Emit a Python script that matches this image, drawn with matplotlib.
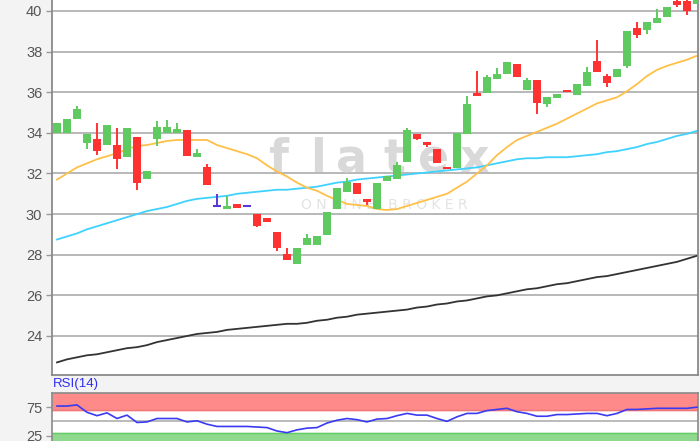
import numpy as np
import matplotlib
matplotlib.use("Agg")
import matplotlib.pyplot as plt

# Kursdaten (Tageskerzen)
opens = [34.0, 34.0, 34.7, 33.5, 33.7, 33.4, 33.4, 32.8, 33.8, 31.75,
         33.7, 34.0, 34.0, 34.15, 32.8, 32.3, 30.4, 30.25, 30.5, 30.4,
         30.0, 29.8, 29.1, 28.05, 27.55, 28.5, 28.5, 28.95, 30.25, 31.1,
         31.55, 30.75, 30.25, 31.65, 31.75, 32.55, 33.95, 33.55, 33.2, 32.3,
         32.25, 33.95, 35.95, 35.95, 36.65, 36.9, 37.4, 36.1, 36.6, 35.4,
         35.7, 36.1, 35.85, 36.3, 37.55, 36.8, 36.75, 37.3, 39.15, 39.05,
         39.4, 39.7, 40.5, 40.5, 40.35]
highs = [34.5, 34.7, 35.3, 33.95, 34.5, 34.4, 34.25, 34.25, 33.8, 32.1,
         34.6, 34.65, 34.5, 34.15, 33.2, 32.45, 31.0, 30.9, 30.5, 30.4,
         30.0, 29.8, 29.1, 28.35, 28.35, 29.0, 28.9, 30.1, 31.3, 31.8,
         31.55, 30.75, 31.55, 31.9, 32.55, 34.25, 33.95, 33.55, 33.2, 32.3,
         34.0, 35.8, 37.05, 36.85, 37.2, 37.5, 37.4, 36.7, 36.6, 35.75,
         35.9, 36.1, 36.4, 37.25, 38.55, 36.9, 37.15, 39.0, 39.45, 39.45,
         40.1, 40.2, 40.6, 40.6, 40.8]
lows = [34.0, 34.0, 34.7, 33.2, 32.9, 33.4, 32.2, 32.8, 31.2, 31.75,
        33.35, 34.0, 34.0, 32.85, 32.8, 31.45, 30.4, 30.25, 30.3, 30.4,
        29.35, 29.6, 28.2, 27.75, 27.55, 28.5, 28.5, 28.95, 30.25, 31.1,
        31.0, 30.45, 30.25, 31.65, 31.75, 32.55, 33.65, 33.3, 32.5, 32.2,
        32.25, 33.95, 35.8, 35.95, 36.65, 36.9, 36.75, 36.1, 34.95, 35.25,
        35.7, 36.0, 35.85, 36.3, 37.0, 36.25, 36.75, 37.2, 38.65, 38.85,
        39.4, 39.7, 40.2, 39.8, 40.35]
closes = [34.5, 34.7, 35.15, 33.95, 33.1, 34.4, 32.7, 34.25, 31.55, 32.1,
          34.3, 34.3, 34.2, 32.85, 33.0, 31.45, 30.4, 30.4, 30.3, 30.4,
          29.4, 29.6, 28.35, 27.75, 28.35, 28.8, 28.9, 30.1, 31.3, 31.6,
          31.0, 30.6, 31.55, 31.9, 32.4, 34.15, 33.7, 33.4, 32.5, 32.2,
          34.0, 35.4, 35.8, 36.75, 36.9, 37.5, 36.75, 36.6, 35.45, 35.75,
          35.9, 36.0, 36.4, 37.0, 37.0, 36.45, 37.15, 39.0, 38.8, 39.45,
          39.65, 40.2, 40.3, 40.0, 40.7]

# gleitende Durchschnitte
sma_20 = [31.7, 32.0, 32.3, 32.5, 32.7, 32.85, 33.0, 33.2, 33.35, 33.4,
          33.5, 33.6, 33.65, 33.65, 33.65, 33.65, 33.4, 33.25, 33.1, 32.95,
          32.75, 32.4, 32.1, 31.85, 31.55, 31.3, 31.15, 30.9, 30.7, 30.5,
          30.45, 30.4, 30.25, 30.2, 30.25, 30.4, 30.55, 30.7, 30.85, 31.0,
          31.3, 31.6, 32.0, 32.4, 32.9, 33.3, 33.65, 33.85, 34.05, 34.25,
          34.45, 34.7, 34.95, 35.2, 35.45, 35.6, 35.75, 36.05, 36.4, 36.8,
          37.1, 37.3, 37.45, 37.6, 37.8]
sma_50 = [28.75, 28.9, 29.05, 29.25, 29.4, 29.55, 29.7, 29.85, 30.0, 30.15,
          30.25, 30.35, 30.5, 30.65, 30.75, 30.8, 30.85, 30.9, 31.0, 31.05,
          31.1, 31.15, 31.2, 31.2, 31.25, 31.3, 31.35, 31.45, 31.55, 31.6,
          31.7, 31.75, 31.8, 31.85, 31.9, 31.95, 32.0, 32.05, 32.1, 32.15,
          32.2, 32.25, 32.3, 32.4, 32.5, 32.6, 32.7, 32.75, 32.75, 32.8,
          32.8, 32.8, 32.85, 32.9, 32.95, 33.05, 33.1, 33.2, 33.3, 33.45,
          33.55, 33.7, 33.85, 33.95, 34.1]
sma_200 = [22.7, 22.85, 22.95, 23.05, 23.1, 23.2, 23.3, 23.4, 23.45, 23.55,
           23.7, 23.8, 23.9, 24.0, 24.1, 24.15, 24.2, 24.3, 24.35, 24.4,
           24.45, 24.5, 24.55, 24.6, 24.6, 24.65, 24.75, 24.8, 24.9, 24.95,
           25.05, 25.1, 25.15, 25.2, 25.25, 25.3, 25.4, 25.45, 25.55, 25.6,
           25.7, 25.75, 25.85, 25.95, 26.0, 26.1, 26.2, 26.3, 26.35, 26.45,
           26.55, 26.6, 26.7, 26.8, 26.9, 26.95, 27.05, 27.15, 27.25, 27.35,
           27.45, 27.55, 27.65, 27.8, 27.95]

rsi_14 = [77, 77, 79, 66, 60, 65, 55, 61, 48, 49,
          55, 55, 55, 49, 51, 45, 41, 41, 41, 41,
          40, 39, 33, 30, 35, 38, 39, 47, 52, 55,
          53, 49, 54, 55, 60, 64, 61, 61, 55, 50,
          58, 64, 64, 69, 71, 73, 67, 64, 59, 59,
          62, 62, 63, 64, 64, 60, 64, 71, 71, 72,
          73, 73, 73, 73, 75]

price_ticks = [24, 26, 28, 30, 32, 34, 36, 38, 40]
rsi_ticks = [25, 75]

x = np.arange(len(opens))
o = np.array(opens); c = np.array(closes)
h = np.array(highs); l = np.array(lows)

col_up = '#5fca5f'
col_down = '#ff3232'
col_doji = '#5b36d6'
colors = np.where(c > o, col_up, np.where(c < o, col_down, col_doji))

fig = plt.figure(figsize=(7, 4.41), dpi=100, facecolor='#f3f3f3')
plt.rcParams['font.family'] = ['Liberation Sans', 'DejaVu Sans']

ax = fig.add_axes([52/700, 1 - 375/441, 646/700, 375/441])
ax.set_facecolor('white')
ax.set_xlim(-0.5, 64.1)
ax.set_ylim(22.08, 40.54)
ax.set_yticks(price_ticks)
ax.yaxis.grid(True, color='#ababab', linewidth=1.2, zorder=0)
ax.set_axisbelow(True)
ax.set_xticks([])
ax.tick_params(axis='y', colors='#999999', labelcolor='#555555', labelsize=10.5,
               length=4, width=1, pad=3)
for s in ['left', 'bottom', 'right']:
    ax.spines[s].set_color('#8a8a8a')
    ax.spines[s].set_linewidth(1.3)
ax.spines['top'].set_visible(False)

# Wasserzeichen
for ch, px in zip("flatex", [278, 318, 351, 394, 434, 474]):
    ax.text((px - 52) / 646, (375 - 160) / 375, ch, transform=ax.transAxes,
            fontsize=33, fontweight='bold', color='#d9d9d9', ha='center',
            va='center', family='DejaVu Sans', zorder=0.6)
ax.text((384 - 52) / 646, (375 - 205) / 375, "O N L I N E   B R O K E R",
        transform=ax.transAxes, fontsize=10, color='#e3e3e3', ha='center',
        va='center', family='DejaVu Sans', zorder=0.6)

# Linien
ax.plot(x, sma_200, color='#333333', lw=1.3, zorder=2)
ax.plot(x, sma_50, color='#3fd2ff', lw=1.3, zorder=2)
ax.plot(x, sma_20, color='#ffc048', lw=1.3, zorder=2)

# Kerzen
ax.vlines(x, l, h, colors=colors, lw=1.4, zorder=3)
body_lo = np.minimum(o, c)
body_h = np.abs(c - o)
mask = body_h > 0
ax.bar(x[mask], body_h[mask], bottom=body_lo[mask], width=0.75,
       color=colors[mask], zorder=4)
ax.hlines(o[~mask], x[~mask] - 0.375, x[~mask] + 0.375, colors=col_doji,
          lw=1.5, zorder=4)

# RSI
ax2 = fig.add_axes([52/700, -0.0197, 646/700, 0.1285])
ax2.set_facecolor('white')
ax2.set_xlim(-0.5, 64.1)
ax2.set_ylim(0, 100)
ax2.axhspan(70, 100, color='#ff8a8a', zorder=0)
ax2.axhline(70, color='#e77', lw=1)
ax2.axhspan(0, 30, color='#8fd98f', zorder=0)
ax2.axhline(30, color='#6c6', lw=1)
ax2.axhline(50, color='#b5b5b5', lw=1.3)
ax2.plot(x, rsi_14, color='#3a3af0', lw=1.2, zorder=3)
ax2.set_yticks(rsi_ticks)
ax2.set_xticks([])
ax2.tick_params(axis='y', colors='#999999', labelcolor='#555555', labelsize=10.5,
                length=4, width=1, pad=3)
for s in ['left', 'bottom', 'right', 'top']:
    ax2.spines[s].set_color('#8a8a8a')
    ax2.spines[s].set_linewidth(1.2)

fig.text(53/700, 1 - 384/441, "RSI(14)", color='#2f2ff0', fontsize=9.5,
         ha='left', va='center')

fig.savefig("out.png", dpi=100, facecolor=fig.get_facecolor())
